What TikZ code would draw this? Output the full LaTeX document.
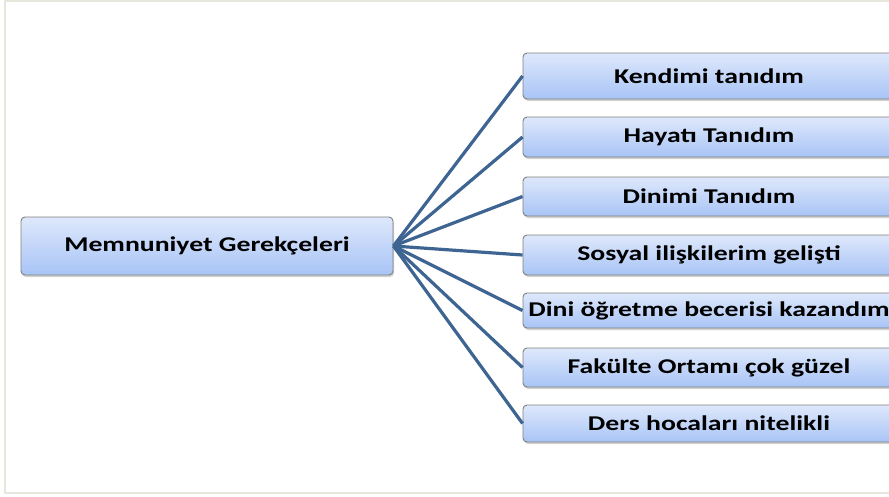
\documentclass[tikz,border=0pt]{standalone}
\usepackage{fontspec}
\setmainfont{Carlito}[FakeStretch=1.32]
\usetikzlibrary{shadows}
\definecolor{edgecol}{HTML}{3E6592}
\definecolor{boxtop}{HTML}{DEE8FB}
\definecolor{boxbot}{HTML}{A8C4F6}
\definecolor{boxline}{HTML}{808080}
\definecolor{framecol}{HTML}{E6E6DC}
\tikzset{
  box/.style={draw=boxline, line width=0.9pt, rounded corners=4pt,
    top color=boxtop, bottom color=boxbot, minimum width=372pt,
    inner sep=0pt, font=\bfseries\fontsize{21}{25}\selectfont, text=black,
    drop shadow={shadow xshift=1pt, shadow yshift=-2pt, opacity=0.35, fill=gray}},
  link/.style={draw=edgecol, line width=3.2pt}
}
\begin{document}
\begin{tikzpicture}[x=1pt, y=-1pt]
\useasboundingbox (0,0) rectangle (889,496);
\fill[white] (0,0) rectangle (889,496);
\draw[framecol, line width=1.5pt] (889,1) -- (5,1) -- (5,493) -- (889,493);
\node[box, minimum height=58pt] (L) at (207,246) {Memnuniyet Gerekçeleri};
\node[box, minimum height=46pt] (r1) at (709,76) {Kendimi tanıdım};
\node[box, minimum height=40pt] (r2) at (709,137) {Hayatı Tanıdım};
\node[box, minimum height=39pt] (r3) at (709,196.5) {Dinimi Tanıdım};
\node[box, minimum height=40pt] (r4) at (709,255) {Sosyal ilişkilerim gelişti};
\node[box, minimum height=35pt] (r5) at (709,310.5) {Dini öğretme becerisi kazandım};
\node[box, minimum height=39pt] (r6) at (709,367.5) {Fakülte Ortamı çok güzel};
\node[box, minimum height=37pt] (r7) at (709,423.5) {Ders hocaları nitelikli};
\foreach \r in {r1,r2,r3,r4,r5,r6,r7}
  \draw[link] (L.east) -- (\r.west);
\end{tikzpicture}
\end{document}
